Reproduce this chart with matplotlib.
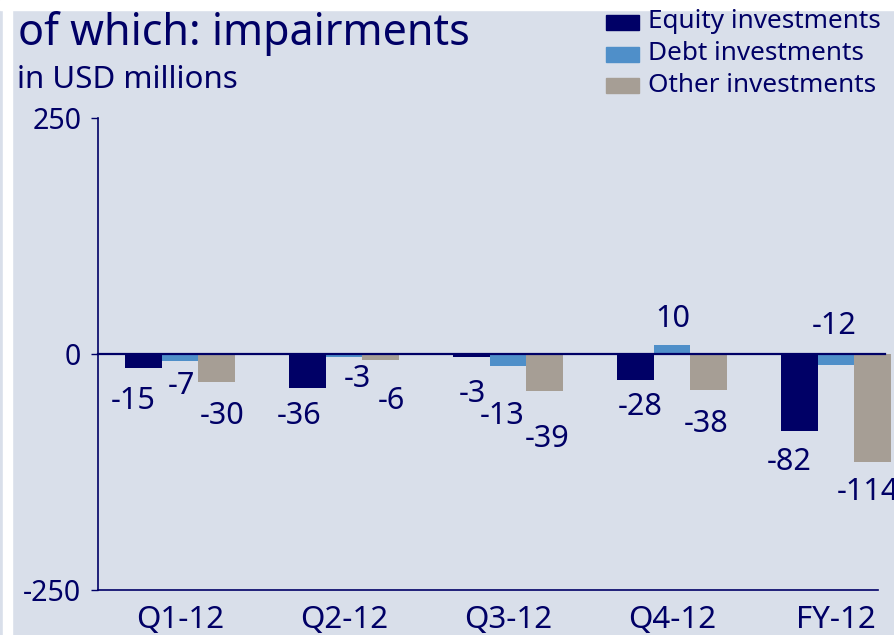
import matplotlib
matplotlib.use('Agg')
import matplotlib.pyplot as plt
from matplotlib.patches import Rectangle
import numpy as np

plt.rcParams['font.family'] = ['Noto Sans', 'DejaVu Sans']
plt.rcParams['axes.unicode_minus'] = False

# Impairments by quarter, USD millions
periods = ['Q1-12', 'Q2-12', 'Q3-12', 'Q4-12', 'FY-12']
equity = [-15, -36, -3, -28, -82]
debt = [-7, -3, -13, 10, -12]
other = [-30, -6, -39, -38, -114]
series_names = ['Equity investments', 'Debt investments', 'Other investments']

navy = '#000066'
colors = [navy, '#4f8fc9', '#a69e95']
bg = '#d9dfea'

# label nudges (pixels) so the value texts don't collide
label_offsets = [
    [(-10, -33), (-8, -28), (1, -37), (5, -27), (-10, -31)],
    [(1, -25), (13, -22), (-6, -50), (1, 26), (-2, 39)],
    [(5, -34), (10, -41), (2, -48), (-3, -34), (-5, -30)],
]

W, H = 895, 635
fig = plt.figure(figsize=(W / 100, H / 100), dpi=100, facecolor=bg)

# thin white gutters along the top and left
fig.patches.append(Rectangle((0, 1 - 10 / H), 1, 10 / H,
                             transform=fig.transFigure, color='white', zorder=-1))
fig.patches.append(Rectangle((3 / W, 0), 9 / W, 1,
                             transform=fig.transFigure, color='white', zorder=-1))

ax = fig.add_axes([98 / W, 45 / H, (878 - 98) / W, (590 - 118) / H])
ax.set_facecolor('none')

x = np.arange(len(periods))
width = 0.225
data = [equity, debt, other]
for i, vals in enumerate(data):
    xs = x + (i - 1) * width
    ax.bar(xs, vals, width, color=colors[i], clip_on=False, zorder=2)
    for xi, v, (dx, dy) in zip(xs, vals, label_offsets[i]):
        ax.annotate(str(v), (xi, v), xytext=(dx, dy), textcoords='offset pixels',
                    ha='center', va='center', fontsize=22, color=navy,
                    annotation_clip=False)

# zero line runs slightly past the plot area
ax.plot([-0.5, 4.3], [0, 0], color=navy, lw=1.6, clip_on=False, zorder=3)

ax.set_xlim(-0.5, 4.256)
ax.set_ylim(-250, 250)
ax.set_yticks([-250, 0, 250])
ax.set_xticks(x)
ax.set_xticklabels(periods)
ax.tick_params(axis='y', colors=navy, labelsize=20.5, length=5, width=1, direction='out', pad=7)
ax.tick_params(axis='x', colors=navy, labelsize=22.5, length=0, pad=11)
for s in ['top', 'right']:
    ax.spines[s].set_visible(False)
for s in ['left', 'bottom']:
    ax.spines[s].set_color(navy)
    ax.spines[s].set_linewidth(1.2)

fig.text(18 / W, 1 - 33 / H, 'of which: impairments', fontsize=31, color=navy,
         ha='left', va='center')
fig.text(17 / W, 1 - 80 / H, 'in USD millions', fontsize=22.5, color=navy,
         ha='left', va='center')

# legend
rows_y = [22, 54, 85]
for name, c, yc in zip(series_names, colors, rows_y):
    fig.patches.append(Rectangle((606 / W, 1 - (yc + 8) / H), 33 / W, 15 / H,
                                 transform=fig.transFigure, color=c, zorder=1))
    fig.text(648 / W, 1 - yc / H, name, fontsize=18.8, color=navy,
             ha='left', va='center')

fig.savefig('out.png', dpi=100, facecolor=fig.get_facecolor())
